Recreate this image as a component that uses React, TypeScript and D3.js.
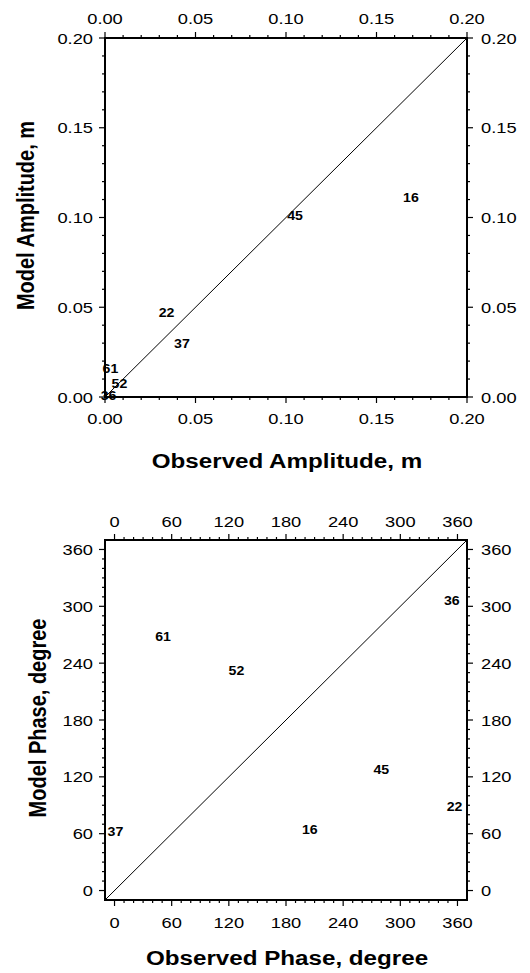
import React from "react";
import * as d3 from "d3";

const ampTicks = [0, 0.05, 0.1, 0.15, 0.2];
const ampMinorStep = 0.01;
const ampStations = ["16", "45", "22", "37", "61", "52", "36"];
const obsAmp = [0.169, 0.105, 0.034, 0.0425, 0.003, 0.008, 0.002];
const modAmp = [0.111, 0.101, 0.047, 0.0295, 0.016, 0.0073, 0.0005];

const phaseTicks = [0, 60, 120, 180, 240, 300, 360];
const phaseMinorStep = 10;
const phaseStations = ["61", "52", "36", "45", "22", "16", "37"];
const obsPhase = [51, 128, 354, 280, 357, 205, 1];
const modPhase = [268, 232, 306, 128, 88, 64, 62];

const FONT = "'Liberation Sans', Arial, Helvetica, sans-serif";
const SX = 1.18;

function T(props: {
  x: number; y: number; anchor?: string; size: number; bold?: boolean; rot?: boolean; dy?: string; children: React.ReactNode;
}) {
  const tr = props.rot
    ? `translate(${props.x},${props.y}) rotate(-90) scale(1,${SX})`
    : `translate(${props.x},${props.y}) scale(${SX},1)`;
  return (
    <text transform={tr} textAnchor={props.anchor || "middle"} dy={props.dy} fontSize={props.size}
      fontWeight={props.bold ? "bold" : "normal"} fill="#000">
      {props.children}
    </text>
  );
}

type PanelProps = {
  xDomain: [number, number];
  yDomain: [number, number];
  left: number; right: number; top: number; bottom: number;
  ticks: number[];
  minor: number[];
  fmt: (v: number) => string;
  labels: string[];
  xs: number[];
  ys: number[];
  xTitle: string;
  yTitle: string;
  topLabelY: number;
  bottomLabelY: number;
  xTitleY: number;
  yTitleX: number;
  diag: [number, number];
};

function Panel(p: PanelProps) {
  const x = d3.scaleLinear().domain(p.xDomain).range([p.left, p.right]);
  const y = d3.scaleLinear().domain(p.yDomain).range([p.bottom, p.top]);
  const maj = 6, mn = 3;
  const isMajor = (v: number) => p.ticks.some((t) => Math.abs(t - v) < 1e-9);
  const ax = { stroke: "#000", strokeWidth: 1.2 };
  return (
    <g fontFamily={FONT}>
      <rect x={p.left} y={p.top} width={p.right - p.left} height={p.bottom - p.top} fill="none" stroke="#000" strokeWidth={2} />
      {p.minor.map((v, i) => {
        const L = isMajor(v) ? maj : mn;
        const xv = x(v), yv = y(v);
        return (
          <g key={"t" + i}>
            <line x1={xv} x2={xv} y1={p.top} y2={p.top - L} {...ax} />
            <line x1={xv} x2={xv} y1={p.bottom} y2={p.bottom + L} {...ax} />
            <line x1={p.left} x2={p.left - L} y1={yv} y2={yv} {...ax} />
            <line x1={p.right} x2={p.right + L} y1={yv} y2={yv} {...ax} />
          </g>
        );
      })}
      {p.ticks.map((v, i) => (
        <g key={"l" + i}>
          <T x={x(v)} y={p.topLabelY} size={15.5}>{p.fmt(v)}</T>
          <T x={x(v)} y={p.bottomLabelY} size={15.5}>{p.fmt(v)}</T>
          <T x={p.left - 12} y={y(v)} dy="0.36em" anchor="end" size={15.5}>{p.fmt(v)}</T>
          <T x={p.right + 14} y={y(v)} dy="0.36em" anchor="start" size={15.5}>{p.fmt(v)}</T>
        </g>
      ))}
      <line x1={x(p.diag[0])} y1={y(p.diag[0])} x2={x(p.diag[1])} y2={y(p.diag[1])} stroke="#000" strokeWidth={1} />
      {p.labels.map((s, i) => (
        <T key={"s" + i} x={x(p.xs[i])} y={y(p.ys[i])} dy="0.36em" size={12} bold>{s}</T>
      ))}
      <T x={(p.left + p.right) / 2 + 1} y={p.xTitleY} size={20.5} bold>{p.xTitle}</T>
      <T x={p.yTitleX} y={(p.top + p.bottom) / 2 - 2} size={20} bold rot>{p.yTitle}</T>
    </g>
  );
}

export default function App() {
  const ampMinor = d3.range(0, 0.2 + 1e-9, ampMinorStep);
  const phaseMinor = d3.range(0, 360 + 1e-9, phaseMinorStep);
  return (
    <svg width={514} height={965} style={{ display: "block", background: "#fff" }}>
      <g transform="translate(-8,-8)">
        <Panel
          xDomain={[0, 0.2]} yDomain={[0, 0.2]}
          left={105} right={467} top={38} bottom={397}
          ticks={ampTicks} minor={ampMinor}
          fmt={(v) => v.toFixed(2)}
          labels={ampStations} xs={obsAmp} ys={modAmp}
          xTitle="Observed Amplitude, m" yTitle="Model Amplitude, m"
          topLabelY={24} bottomLabelY={424} xTitleY={468} yTitleX={34}
          diag={[0, 0.2]}
        />
        <Panel
          xDomain={[-10, 370]} yDomain={[-10, 370]}
          left={105} right={467} top={540} bottom={900}
          ticks={phaseTicks} minor={phaseMinor}
          fmt={(v) => String(v)}
          labels={phaseStations} xs={obsPhase} ys={modPhase}
          xTitle="Observed Phase, degree" yTitle="Model Phase, degree"
          topLabelY={527} bottomLabelY={928} xTitleY={965} yTitleX={46}
          diag={[-10, 370]}
        />
      </g>
    </svg>
  );
}
